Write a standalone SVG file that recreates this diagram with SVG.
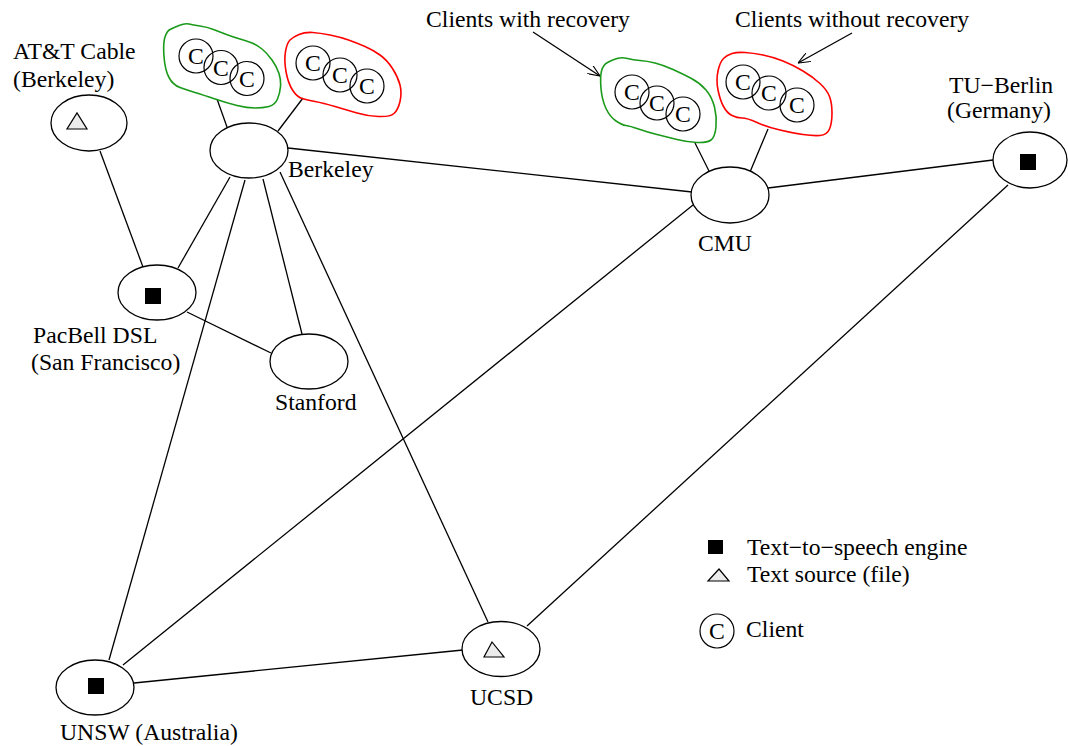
<svg xmlns="http://www.w3.org/2000/svg" width="1068" height="746" viewBox="0 0 1068 746">
  <defs>
    <style>
      text { font-family: "Liberation Serif", "Times New Roman", serif; font-size: 23.7px; fill: #000; }
      .edge { stroke: #000; stroke-width: 1.3; fill: none; }
      .node { fill: #fff; stroke: #000; stroke-width: 1.3; }
      .engine { fill: #000; }
      .source { fill: #ececec; stroke: #000; stroke-width: 1.2; }
      .client { fill: none; stroke: #000; stroke-width: 1.2; }
      .ctext { text-anchor: middle; }
      .grp-green { fill: none; stroke: #1a9a1a; stroke-width: 1.6; }
      .grp-red { fill: none; stroke: #ff0000; stroke-width: 1.6; }
    </style>
    <marker id="arrow" viewBox="0 0 12 10" refX="12" refY="5" markerWidth="12" markerHeight="10" markerUnits="userSpaceOnUse" orient="auto">
      <path d="M0,0 L12,5 L0,10" fill="none" stroke="#000" stroke-width="1.1"/>
    </marker>
  </defs>

  <!-- links -->
  <g id="connectors">
    <line class="edge" x1="100" y1="151" x2="143" y2="267"/>
    <line class="edge" x1="230" y1="177" x2="178" y2="268"/>
    <line class="edge" x1="245" y1="180" x2="109" y2="660"/>
    <line class="edge" x1="263" y1="179" x2="302" y2="334"/>
    <line class="edge" x1="280" y1="172" x2="488" y2="622"/>
    <line class="edge" x1="288" y1="148" x2="692" y2="192"/>
    <line class="edge" x1="187" y1="312" x2="271" y2="353"/>
    <line class="edge" x1="693" y1="205" x2="123" y2="665"/>
    <line class="edge" x1="768" y1="188" x2="993" y2="160"/>
    <line class="edge" x1="1008" y1="185" x2="527" y2="626"/>
    <line class="edge" x1="134" y1="683" x2="463" y2="650"/>
    <line class="edge" x1="217" y1="99" x2="227" y2="127"/>
    <line class="edge" x1="303" y1="98" x2="278" y2="131"/>
    <line class="edge" x1="695" y1="143" x2="709" y2="171"/>
    <line class="edge" x1="768" y1="129" x2="750" y2="172"/>
    <line class="edge" x1="533" y1="32" x2="600" y2="76" marker-end="url(#arrow)"/>
    <line class="edge" x1="852" y1="33" x2="798" y2="63" marker-end="url(#arrow)"/>
  </g>

  <g id="att-cable">
    <ellipse class="node" cx="89" cy="123" rx="38" ry="28"/>
    <polygon class="source" points="67,129 87,129 77,113"/>
    <text x="13" y="59">AT&amp;T Cable</text>
    <text x="13" y="87">(Berkeley)</text>
  </g>

  <g id="berkeley">
    <ellipse class="node" cx="249" cy="150.5" rx="39" ry="27.5"/>
    <text x="288" y="177">Berkeley</text>
  </g>

  <g id="berkeley-clients-recovery">
    <path class="grp-green" d="M179,25.5 Q173,28 170,29.5 Q167,31 165,37 Q163,43 164,56.5 Q165,70 169,77.5 Q173,85 180,87.5 Q187,90 195,92.5 Q203,95 215,99 Q227,103 237,105.5 Q247,108 255,108 Q263,108 269,106.5 Q275,105 277.5,99 Q280,93 280.5,86.5 Q281,80 279,73.5 Q277,67 272,60 Q267,53 262,49 Q257,45 252,43 Q247,41 240,39 Q233,37 226.5,34.5 Q220,32 213.5,29.5 Q207,27 200,26 Q193,25 189,24 Q185,23 179,25.5 Z"/>
    <circle class="client" cx="196" cy="56" r="17"/>
    <circle class="client" cx="221" cy="67.5" r="17"/>
    <circle class="client" cx="247" cy="78.5" r="17"/>
    <text class="ctext" x="196" y="64">C</text>
    <text class="ctext" x="221" y="75.5">C</text>
    <text class="ctext" x="247" y="86.5">C</text>
  </g>

  <g id="berkeley-clients-norecovery">
    <path class="grp-red" d="M299,34.5 Q293,37 290,40 Q287,43 285.5,51.5 Q284,60 286,71.5 Q288,83 292.5,90 Q297,97 302,98.5 Q307,100 315,101.5 Q323,103 335,106.5 Q347,110 357,113 Q367,116 378.5,116.5 Q390,117 394,113.5 Q398,110 400,101.5 Q402,93 400,85 Q398,77 392.5,68.5 Q387,60 380,55 Q373,50 365,46.5 Q357,43 348.5,40 Q340,37 330,35 Q320,33 312.5,32.5 Q305,32 299,34.5 Z"/>
    <circle class="client" cx="313" cy="63" r="17"/>
    <circle class="client" cx="340" cy="75" r="17"/>
    <circle class="client" cx="367" cy="86" r="17"/>
    <text class="ctext" x="313" y="71">C</text>
    <text class="ctext" x="340" y="83">C</text>
    <text class="ctext" x="367" y="94">C</text>
  </g>

  <g id="pacbell">
    <ellipse class="node" cx="157" cy="292.5" rx="39" ry="27.5"/>
    <rect class="engine" x="145" y="288" width="16" height="16"/>
    <text x="33" y="343">PacBell DSL</text>
    <text x="31" y="370">(San Francisco)</text>
  </g>

  <g id="stanford">
    <ellipse class="node" cx="309" cy="361.5" rx="39" ry="27.5"/>
    <text x="275" y="410">Stanford</text>
  </g>

  <g id="cmu">
    <ellipse class="node" cx="730" cy="195" rx="39" ry="28"/>
    <text x="698" y="251">CMU</text>
  </g>

  <g id="cmu-clients-recovery">
    <path class="grp-green" d="M617,58.5 Q612,60 607.5,62.5 Q603,65 601.5,71 Q600,77 601,88.5 Q602,100 606,108.5 Q610,117 616,121 Q622,125 626,125.5 Q630,126 638.5,129 Q647,132 657,134.5 Q667,137 677,139.5 Q687,142 697,142.5 Q707,143 711,140 Q715,137 716,127 Q717,117 714.5,107 Q712,97 706,90 Q700,83 691.5,78.5 Q683,74 673,69.5 Q663,65 655,63 Q647,61 640,60.5 Q633,60 627.5,58.5 Q622,57 617,58.5 Z"/>
    <circle class="client" cx="632" cy="92" r="17"/>
    <circle class="client" cx="657" cy="103" r="17"/>
    <circle class="client" cx="683" cy="114" r="17"/>
    <text class="ctext" x="632" y="100">C</text>
    <text class="ctext" x="657" y="111">C</text>
    <text class="ctext" x="683" y="122">C</text>
  </g>

  <g id="cmu-clients-norecovery">
    <path class="grp-red" d="M732,53.5 Q727,55 723.5,58.5 Q720,62 718,71 Q716,80 718,90 Q720,100 723.5,106.5 Q727,113 732,115.5 Q737,118 742,118 Q747,118 757,122.5 Q767,127 780,130 Q793,133 803,134.5 Q813,136 820,135.5 Q827,135 829.5,129 Q832,123 832,113 Q832,103 829.5,96.5 Q827,90 820,83.5 Q813,77 803,71 Q793,65 783,61 Q773,57 763,55 Q753,53 745,52.5 Q737,52 732,53.5 Z"/>
    <circle class="client" cx="743" cy="82" r="17"/>
    <circle class="client" cx="769" cy="93" r="17"/>
    <circle class="client" cx="797" cy="105" r="17"/>
    <text class="ctext" x="743" y="90">C</text>
    <text class="ctext" x="769" y="101">C</text>
    <text class="ctext" x="797" y="113">C</text>
  </g>

  <g id="tu-berlin">
    <ellipse class="node" cx="1030" cy="160" rx="37" ry="28"/>
    <rect class="engine" x="1020" y="154" width="16" height="16"/>
    <text x="949" y="93">TU−Berlin</text>
    <text x="947" y="118">(Germany)</text>
  </g>

  <g id="unsw">
    <ellipse class="node" cx="95" cy="687.5" rx="39" ry="27.5"/>
    <rect class="engine" x="88" y="678" width="16" height="16"/>
    <text x="60" y="740">UNSW (Australia)</text>
  </g>

  <g id="ucsd">
    <ellipse class="node" cx="501" cy="649" rx="39" ry="27.5"/>
    <polygon class="source" points="484,657 504,657 492,642"/>
    <text x="470" y="705">UCSD</text>
  </g>

  <g id="callouts">
    <text x="426" y="27">Clients with recovery</text>
    <text x="735" y="27">Clients without recovery</text>
  </g>

  <g id="legend">
    <rect class="engine" x="708" y="540" width="15" height="14"/>
    <text x="747" y="555">Text−to−speech engine</text>
    <polygon class="source" points="708,581 729,581 719,569"/>
    <text x="747" y="582">Text source (file)</text>
    <circle class="client" cx="717" cy="631" r="17"/>
    <text class="ctext" x="717" y="639">C</text>
    <text x="746" y="637">Client</text>
  </g>
</svg>
